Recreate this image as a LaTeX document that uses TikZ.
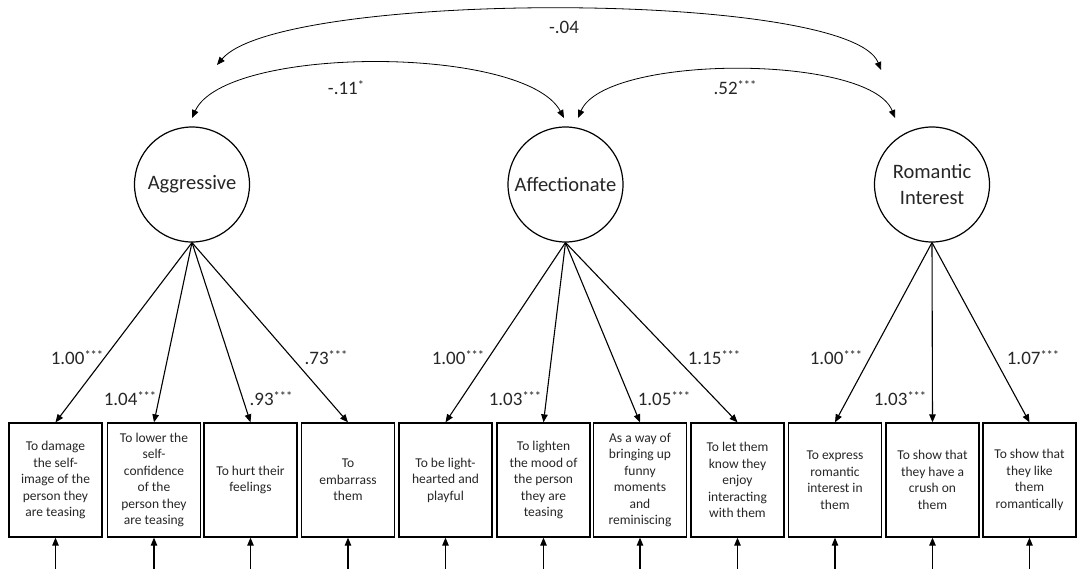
\documentclass[tikz,border=0pt]{standalone}
\usepackage{fontspec}
\setmainfont{Carlito}
\usetikzlibrary{arrows.meta}
\newcommand\mystars[1]{\raisebox{5pt}{\fontsize{12.5}{12.5}\selectfont #1}}
\begin{document}
\begin{tikzpicture}[x=1pt,y=-1pt,
  lv/.style={circle,draw,line width=1.2pt,minimum size=115pt,inner sep=0pt,
    font=\fontsize{20.5}{26}\selectfont,align=center,text=black!85},
  ind/.style={draw,line width=1.3pt,minimum width=93pt,minimum height=114pt,inner sep=0pt,
    font=\fontsize{13.5}{16.5}\selectfont,align=center,text=black!85},
  arr/.style={-{Triangle[length=8pt,width=6.5pt]},line width=1.1pt},
  darr/.style={{Triangle[length=8pt,width=6.5pt]}-{Triangle[length=8pt,width=6.5pt]},line width=0.8pt},
  num/.style={font=\fontsize{19}{19}\selectfont,text=black!85,inner sep=0pt,anchor=base}]
\useasboundingbox (0,0) rectangle (1082,569);
% latent variables
\node[lv] (agg) at (192,184.5) {Aggressive};
\node[lv] (aff) at (565.5,184.5) {Affectionate};
\node[lv] (rom) at (932,184.5) {Romantic\\Interest};
% indicators
\node[ind] (b1) at (55.5,480) {To damage\\the self-\\image of the\\person they\\are teasing};
\node[ind] (b2) at (154,480) {To lower the\\self-\\confidence\\of the\\person they\\are teasing};
\node[ind] (b3) at (250.5,480) {To hurt their\\feelings};
\node[ind] (b4) at (348,480) {To\\embarrass\\them};
\node[ind] (b5) at (445.5,480) {To be light-\\hearted and\\playful};
\node[ind] (b6) at (543.5,480) {To lighten\\the mood of\\the person\\they are\\teasing};
\node[ind] (b7) at (640,480) {As a way of\\bringing up\\funny\\moments\\and\\reminiscing};
\node[ind] (b8) at (737.5,480) {To let them\\know they\\enjoy\\interacting\\with them};
\node[ind] (b9) at (835,480) {To express\\romantic\\interest in\\them};
\node[ind] (b10) at (932.5,480) {To show that\\they have a\\crush on\\them};
\node[ind] (b11) at (1029.5,480) {To show that\\they like\\them\\romantically};
% loadings
\foreach \b in {b1,b2,b3,b4} \draw[arr] (agg.south) -- (\b.north);
\foreach \b in {b5,b6,b7,b8} \draw[arr] (aff.south) -- (\b.north);
\foreach \b in {b9,b10,b11} \draw[arr] (rom.south) -- (\b.north);
% error arrows
\foreach \b/\x in {b1/55.5,b2/154,b3/250.5,b4/348,b5/445.5,b6/543.5,b7/640,b8/737.5,b9/835,b10/932.5,b11/1029.5}{
  \coordinate (e\b) at (\x,569);
  \draw[arr] (e\b) -- (\b.south);
}
% loading labels
\node[num] (l1) at (77,364) {1.00\mystars{***}};
\node[num] (l2) at (130,405) {1.04\mystars{***}};
\node[num] (l3) at (271,405) {.93\mystars{***}};
\node[num] (l4) at (326,364) {.73\mystars{***}};
\node[num] (l5) at (458,364) {1.00\mystars{***}};
\node[num] (l6) at (515,405) {1.03\mystars{***}};
\node[num] (l7) at (664,405) {1.05\mystars{***}};
\node[num] (l8) at (714,364) {1.15\mystars{***}};
\node[num] (l9) at (836,364) {1.00\mystars{***}};
\node[num] (l10) at (900,405) {1.03\mystars{***}};
\node[num] (l11) at (1033,364) {1.07\mystars{***}};
% covariances
\coordinate (c1a) at (217,65);
\coordinate (c1b) at (881,70);
\coordinate (c2a) at (192,118);
\coordinate (c2b) at (564,118);
\coordinate (c3a) at (578,118);
\coordinate (c3b) at (895,118);
\draw[darr] (c1a) .. controls (280,-10) and (850,-10) .. (c1b);
\draw[darr] (c2a) .. controls (225,45) and (525,45) .. (c2b);
\draw[darr] (c3a) .. controls (605,54) and (870,54) .. (c3b);
\node[num] (k1) at (564,34) {-.04};
\node[num] (k2) at (346,95) {-.11\mystars{*}};
\node[num] (k3) at (735,95) {.52\mystars{***}};
\end{tikzpicture}
\end{document}
